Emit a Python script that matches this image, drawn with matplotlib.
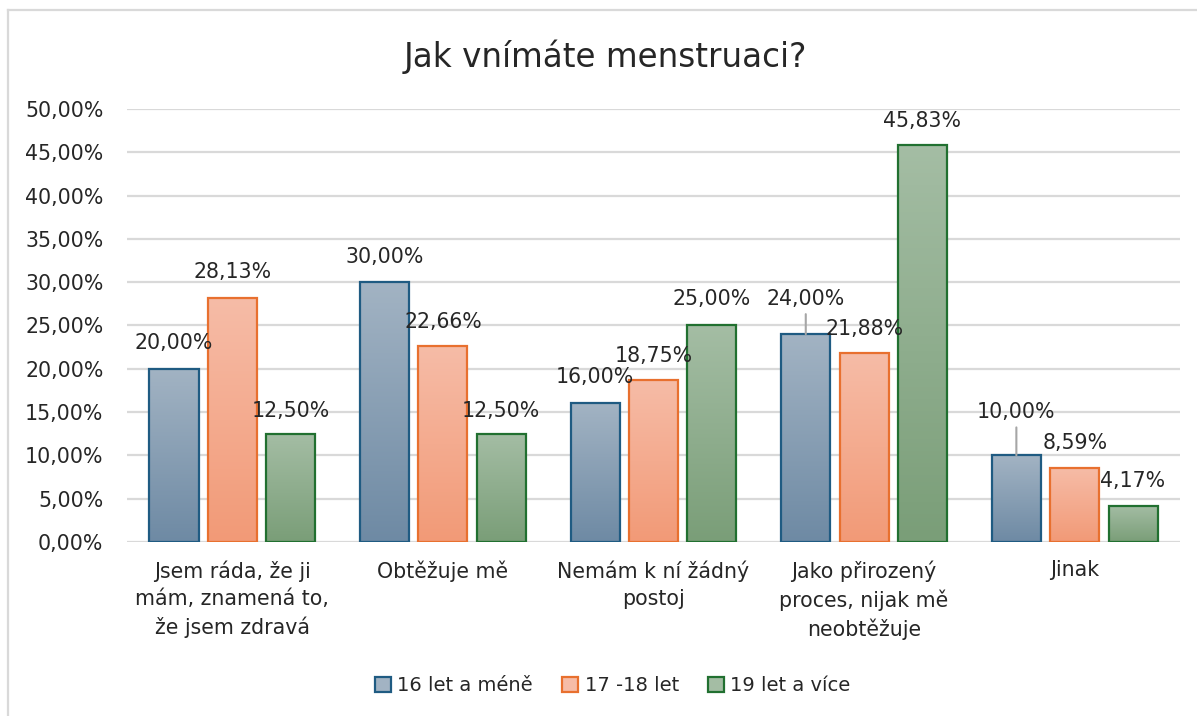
import numpy as np
import matplotlib
matplotlib.use("Agg")
import matplotlib.pyplot as plt
from matplotlib.colors import LinearSegmentedColormap
from matplotlib.patches import Patch
from matplotlib.ticker import FuncFormatter

# data
categories = ["Jsem ráda, že ji\nmám, znamená to,\nže jsem zdravá",
              "Obtěžuje mě",
              "Nemám k ní žádný\npostoj",
              "Jako přirozený\nproces, nijak mě\nneobtěžuje",
              "Jinak"]
series_names = ["16 let a méně", "17 -18 let", "19 let a více"]
young = [20.00, 30.00, 16.00, 24.00, 10.00]
middle = [28.13, 22.66, 18.75, 21.88, 8.59]
older = [12.50, 12.50, 25.00, 45.83, 4.17]
yticks = [0, 5, 10, 15, 20, 25, 30, 35, 40, 45, 50]

# styling
edge_cols = ["#1f5b82", "#e8702f", "#217030"]
grad_cols = [("#a2b3c3", "#6e8aa4"), ("#f6bca7", "#f29a77"), ("#a4bda4", "#7a9e78")]
# label offsets in pixels above bar top (leader lines where Excel moved them)
label_dy = [[26, 25, 26, 35, 43],
            [26, 24, 24, 24, 25],
            [23, 23, 26, 24, 25]]
FS = 14.8

plt.rcParams["font.family"] = ["DejaVu Sans"]

fig = plt.figure(figsize=(11.97, 7.16), dpi=100)
ax = fig.add_axes([0.1061, 0.2430, 0.8797, 0.6048])

x = np.arange(len(categories))
width = 0.233
step = 0.277
all_series = [young, middle, older]

for s, vals in enumerate(all_series):
    cmap = LinearSegmentedColormap.from_list("g%d" % s, [grad_cols[s][1], grad_cols[s][0]])
    pos = x + (s - 1) * step
    bars = ax.bar(pos, vals, width, facecolor="none", edgecolor=edge_cols[s],
                  linewidth=1.6, zorder=3)
    for b, v, d in zip(bars, vals, label_dy[s]):
        x0 = b.get_x()
        grad = np.linspace(0, 1, 100).reshape(-1, 1)
        im = ax.imshow(grad, cmap=cmap, origin="lower", aspect="auto",
                       extent=[x0, x0 + b.get_width(), 0, v], zorder=2)
        im.set_clip_path(b)
        ax.annotate(("%.2f%%" % v).replace(".", ","), (b.get_x() + b.get_width() / 2, v),
                    xytext=(0, d), textcoords="offset pixels", ha="center", va="center",
                    fontsize=FS, color="#262626", zorder=5)
        if d > 30:
            ax.annotate("", (b.get_x() + b.get_width() / 2, v),
                        xytext=(0, d - 15), textcoords="offset pixels",
                        arrowprops=dict(arrowstyle="-", color="#a6a6a6", lw=1.5,
                                        shrinkA=0, shrinkB=0), zorder=4)

ax.set_xlim(-0.5, len(categories) - 0.5)
ax.set_ylim(0, 50)
ax.set_yticks(yticks)
ax.yaxis.set_major_formatter(FuncFormatter(lambda v, p: ("%.2f%%" % v).replace(".", ",")))
ax.set_xticks(x)
ax.set_xticklabels(categories, fontsize=FS, color="#262626", linespacing=1.45, va="top")
ax.tick_params(axis="y", labelsize=FS, labelcolor="#262626", length=0, pad=17)
ax.tick_params(axis="x", length=0, pad=13)
ax.grid(axis="y", color="#d9d9d9", linewidth=1.6, zorder=0)
ax.set_axisbelow(True)
for sp in ax.spines.values():
    sp.set_visible(False)

fig.text(0.506, 0.921, "Jak vnímáte menstruaci?", ha="center", va="center",
         fontsize=23.5, color="#262626")

handles = [Patch(facecolor=grad_cols[i][0], edgecolor=edge_cols[i], linewidth=1.6)
           for i in range(3)]
fig.legend(handles, series_names, loc="center", bbox_to_anchor=(0.512, 0.042), ncol=3,
           frameon=False, fontsize=14, handlelength=0.8, handleheight=0.8,
           handletextpad=0.35, columnspacing=1.5, labelcolor="#262626")

# chart frame (only top and left edges are in the picture)
fig.add_artist(plt.Line2D([8 / 1197, 8 / 1197], [0, 1 - 10 / 716], color="#d9d9d9",
                          lw=1.6, transform=fig.transFigure))
fig.add_artist(plt.Line2D([8 / 1197, 1], [1 - 10 / 716, 1 - 10 / 716], color="#d9d9d9",
                          lw=1.6, transform=fig.transFigure))

fig.savefig("out.png", dpi=100, facecolor="white")
